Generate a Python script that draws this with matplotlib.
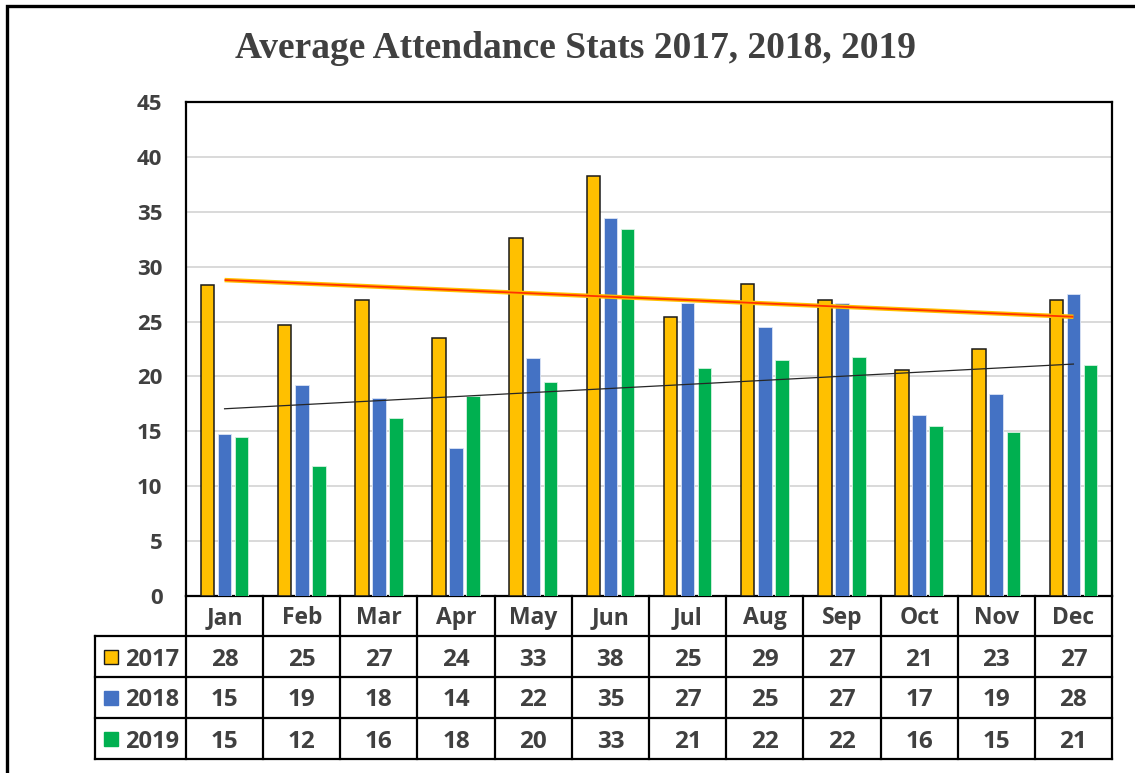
import numpy as np
import matplotlib
matplotlib.use('Agg')
import matplotlib.pyplot as plt
from matplotlib.patches import Rectangle
from matplotlib.transforms import blended_transform_factory

# ── 資料 ──────────────────────────────────────────────
months = ['Jan', 'Feb', 'Mar', 'Apr', 'May', 'Jun',
          'Jul', 'Aug', 'Sep', 'Oct', 'Nov', 'Dec']
years = ['2017', '2018', '2019']

att_2017 = [28.3, 24.7, 27.0, 23.5, 32.6, 38.3, 25.4, 28.4, 27.0, 20.6, 22.5, 27.0]
att_2018 = [14.8, 19.2, 18.0, 13.5, 21.7, 34.4, 26.7, 24.5, 26.7, 16.5, 18.4, 27.5]
att_2019 = [14.5, 11.8, 16.2, 18.2, 19.5, 33.4, 20.8, 21.5, 21.8, 15.5, 14.9, 21.0]

# table shows rounded values
tbl_2017 = [28, 25, 27, 24, 33, 38, 25, 29, 27, 21, 23, 27]
tbl_2018 = [15, 19, 18, 14, 22, 35, 27, 25, 27, 17, 19, 28]
tbl_2019 = [15, 12, 16, 18, 20, 33, 21, 22, 22, 16, 15, 21]

yticks = [0, 5, 10, 15, 20, 25, 30, 35, 40, 45]

COLORS = ['#FFC000', '#4472C4', '#00B050']
TXT = '#404040'
FONT = ['Open Sans', 'DejaVu Sans']

plt.rcParams['font.family'] = FONT

W, H = 1135, 773
fig = plt.figure(figsize=(W / 100, H / 100), dpi=100, facecolor='white')

# plot area in pixels: x 186..1112, y 102..596
PX_L, PX_R, PX_T, PX_B = 186, 1112, 102, 596
ax = fig.add_axes([PX_L / W, 1 - PX_B / H, (PX_R - PX_L) / W, (PX_B - PX_T) / H])

x = np.arange(len(months))
bw, off = 0.175, 0.222
ax.bar(x - off, att_2017, bw, color=COLORS[0], edgecolor='#1a1a1a', linewidth=1.1, zorder=3)
ax.bar(x, att_2018, bw, color=COLORS[1], edgecolor='#dbe4f5', linewidth=0.6, zorder=3)
ax.bar(x + off, att_2019, bw, color=COLORS[2], edgecolor='#d5f2e0', linewidth=0.6, zorder=3)

# linear trend lines (2017 and 2019), same as Excel
k17 = np.polyfit(x, att_2017, 1)
k19 = np.polyfit(x, att_2019, 1)
ends = np.array([x[0], x[-1]])
ax.plot(ends, np.polyval(k17, ends), color='#FFC000', lw=3.2, zorder=4, solid_capstyle='butt')
ax.plot(ends, np.polyval(k17, ends), color='#FF3300', lw=1.3, zorder=5, solid_capstyle='butt')
ax.plot(ends, np.polyval(k19, ends), color='#262626', lw=0.9, zorder=5)

ax.set_xlim(-0.5, len(months) - 0.5)
ax.set_ylim(0, 45)
ax.set_yticks(yticks)
ax.set_xticks([])
ax.yaxis.grid(True, color='#d9d9d9', lw=1.4, zorder=0)
ax.set_axisbelow(True)
ax.tick_params(axis='y', length=0, pad=17, labelsize=16, labelcolor=TXT)
for lbl in ax.get_yticklabels():
    lbl.set_fontweight('bold')
for sp in ax.spines.values():
    sp.set_color('black')
    sp.set_linewidth(1.6)

# ── 資料表 (Excel data table) ─────────────────────────
tr = blended_transform_factory(ax.transData, ax.transAxes)

def py(p):
    # pixel row -> axes fraction
    return (PX_B - p) / (PX_B - PX_T)

col_w = (PX_R - PX_L) / len(months)
left_edge = -0.5 - (PX_L - 95) / col_w
rows_px = [596, 636, 677, 718, 759]
ry = [py(p) for p in rows_px]
nudge = 3 / (PX_B - PX_T)  # text sits a little low in the cells

line_kw = dict(color='black', lw=1.6, transform=tr, clip_on=False, zorder=6)
for yy in ry[1:]:
    ax.plot([left_edge, len(months) - 0.5], [yy, yy], **line_kw)
for k in range(len(months) + 1):
    ax.plot([k - 0.5, k - 0.5], [ry[0], ry[-1]], **line_kw)
ax.plot([left_edge, left_edge], [ry[1], ry[-1]], **line_kw)

hdr_y = (ry[0] + ry[1]) / 2 - 0.004
for i, m in enumerate(months):
    ax.text(i, hdr_y, m, transform=tr, ha='center', va='center',
            fontsize=16.5, fontweight='bold', color=TXT)

tbl_rows = [tbl_2017, tbl_2018, tbl_2019]
sq = 14 / col_w  # legend square width in data units
sq_h = 14 / (PX_B - PX_T)
for r, (yr, vals) in enumerate(zip(years, tbl_rows)):
    yc = (ry[r + 1] + ry[r + 2]) / 2
    for i, v in enumerate(vals):
        ax.text(i, yc - nudge, str(v), transform=tr, ha='center', va='center',
                fontsize=17.5, fontweight='bold', color=TXT)
    sx = left_edge + 9 / col_w
    ax.add_patch(Rectangle((sx, yc - sq_h / 2), sq, sq_h, transform=tr,
                           facecolor=COLORS[r],
                           edgecolor='#1a1a1a' if r == 0 else COLORS[r],
                           lw=1.0, clip_on=False, zorder=6))
    ax.text(left_edge + 30 / col_w, yc - nudge, yr, transform=tr, ha='left', va='center',
            fontsize=17, fontweight='bold', color=TXT)

# 標題
fig.text(575 / W, 1 - 49 / H, 'Average Attendance Stats 2017, 2018, 2019',
         ha='center', va='center', fontsize=27, fontweight='bold',
         family=['Liberation Serif', 'DejaVu Serif'], color=TXT)

# outer chart frame (only top/left visible in the crop)
fig.add_artist(Rectangle((7 / W, -0.1), 1.2, 1 - 5.5 / H + 0.1,
                         transform=fig.transFigure, fill=False,
                         edgecolor='black', lw=2.4))

fig.savefig('out.png', dpi=100, facecolor='white')
